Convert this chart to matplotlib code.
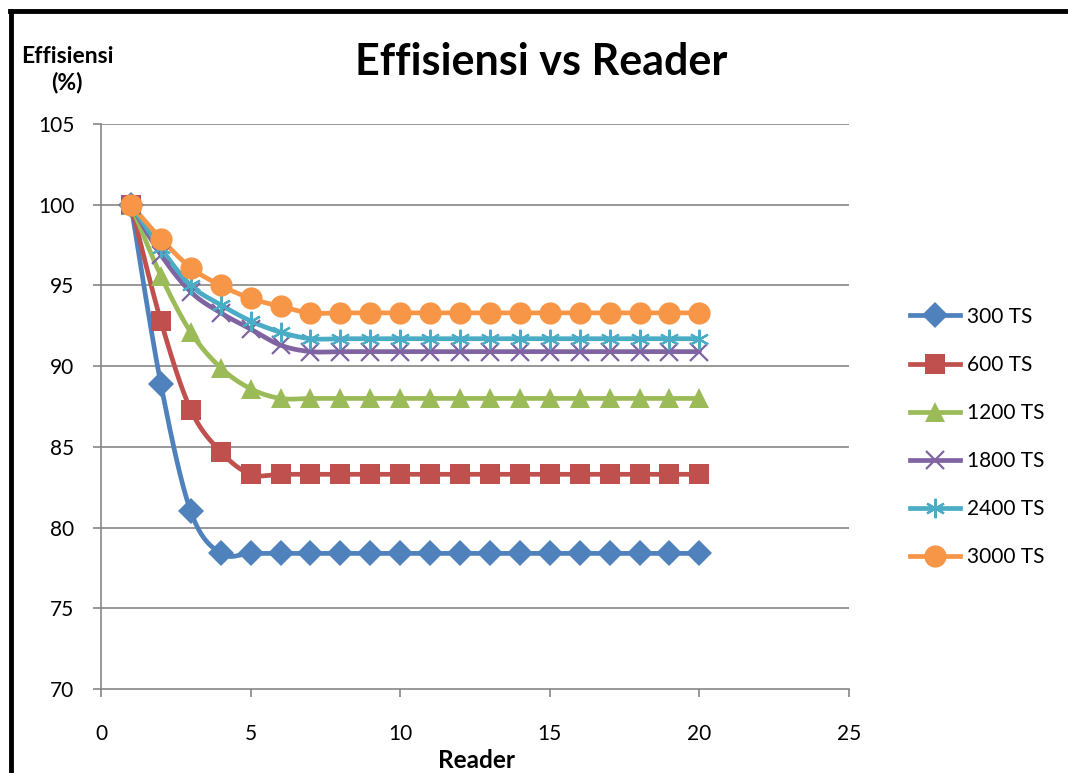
import numpy as np
import matplotlib
matplotlib.use("Agg")
import matplotlib.pyplot as plt
from matplotlib.lines import Line2D

plt.rcParams['font.family'] = ['Lato', 'DejaVu Sans']

reader = list(range(1, 21))

eff_300 = [100, 88.9, 81.0, 78.4] + [78.4] * 16
eff_600 = [100, 92.8, 87.3, 84.7] + [83.3] * 16
eff_1200 = [100, 95.6, 92.1, 89.9, 88.6] + [88.0] * 15
eff_1800 = [100, 96.9, 94.6, 93.3, 92.3, 91.3] + [90.9] * 14
eff_2400 = [100, 97.3, 95.0, 93.8, 92.8, 92.1] + [91.7] * 14
eff_3000 = [100, 97.9, 96.1, 95.0, 94.2, 93.7] + [93.3] * 14

labels = ['300 TS', '600 TS', '1200 TS', '1800 TS', '2400 TS', '3000 TS']
series = [eff_300, eff_600, eff_1200, eff_1800, eff_2400, eff_3000]
colors = ['#4F81BD', '#C0504D', '#9BBB59', '#8064A2', '#4BACC6', '#F79646']
markers = ['D', 's', '^', 'x', (6, 2, 0), 'o']
msizes = [13, 14.5, 14.5, 13, 14, 16]

xticks = [0, 5, 10, 15, 20, 25]
yticks = [70, 75, 80, 85, 90, 95, 100, 105]


def smooth(ax, xs, ys, n=20):
    # Catmull-Rom spline in screen space, like a spreadsheet "smoothed line"
    pts = ax.transData.transform(np.column_stack([xs, ys]))
    p = np.vstack([pts[0], pts, pts[-1]])
    out = []
    for i in range(1, len(p) - 2):
        p0, p1, p2, p3 = p[i - 1], p[i], p[i + 1], p[i + 2]
        t = np.linspace(0, 1, n, endpoint=False)[:, None]
        c = 0.5 * ((2 * p1) + (-p0 + p2) * t + (2 * p0 - 5 * p1 + 4 * p2 - p3) * t ** 2
                   + (-p0 + 3 * p1 - 3 * p2 + p3) * t ** 3)
        out.append(c)
    out.append(p[-2][None, :])
    out = np.vstack(out)
    d = ax.transData.inverted().transform(out)
    return d[:, 0], d[:, 1]


fig = plt.figure(figsize=(10.68, 7.73), dpi=100)
ax = fig.add_axes([101 / 1068, 1 - 689 / 773, 748 / 1068, 565 / 773])
ax.set_xlim(0, 25)
ax.set_ylim(70, 105)

grid_col = '#868686'
ax.set_yticks(yticks)
ax.set_xticks(xticks)
for y in yticks[1:]:
    ax.axhline(y, color=grid_col, lw=1.2, zorder=1)

handles = []
for vals, lab, col, mk, ms in zip(series, labels, colors, markers, msizes):
    sx, sy = smooth(ax, reader, vals)
    ax.plot(sx, sy, color=col, lw=3.4, zorder=3, solid_capstyle='round')
    mew = 1.6 if mk in ('x', (6, 2, 0)) else 0
    ax.plot(reader, vals, linestyle='none', marker=mk, markersize=ms,
            color=col, markeredgecolor=col, markeredgewidth=mew, zorder=4)
    handles.append(Line2D([], [], color=col, lw=3.4, marker=mk, markersize=ms,
                          markeredgecolor=col, markeredgewidth=mew, label=lab))

for s in ['top', 'right']:
    ax.spines[s].set_visible(False)
for s in ['left', 'bottom']:
    ax.spines[s].set_color(grid_col)
    ax.spines[s].set_linewidth(1.2)
ax.tick_params(axis='both', direction='out', length=6, width=1.2, color=grid_col,
               labelsize=15, labelcolor='#000000')
ax.tick_params(axis='y', pad=13)
ax.tick_params(axis='x', pad=19)

fig.text(541 / 1068, 1 - 62 / 773, 'Effisiensi vs Reader', ha='center', va='center',
         fontsize=31, fontweight='bold')
fig.text(67 / 1068, 1 - 70 / 773, 'Effisiensi\n(%)', ha='center', va='center',
         fontsize=16.5, fontweight='bold', linespacing=1.25)
fig.text(477 / 1068, 1 - 760 / 773, 'Reader', ha='center', va='center',
         fontsize=17.5, fontweight='bold')

fig.legend(handles=handles, loc='center left', bbox_to_anchor=(900 / 1068, 1 - 437 / 773),
           frameon=False, fontsize=15, handlelength=2.4, labelspacing=1.35,
           handletextpad=0.3, borderpad=0)

# frame edges along the top and left
fig.add_artist(Line2D([10 / 1068, 1], [1 - 11 / 773, 1 - 11 / 773], color='black', lw=3.5))
fig.add_artist(Line2D([11 / 1068, 11 / 1068], [0, 1 - 11 / 773], color='black', lw=3.5))

fig.savefig('out.png', dpi=100)
